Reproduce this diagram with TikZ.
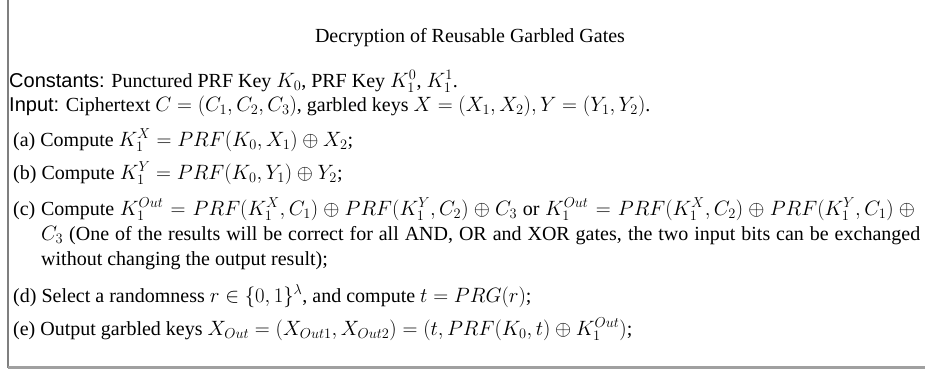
\documentclass[tikz,border=0pt]{standalone}
\usepackage[no-math]{fontspec}
\setmainfont{Liberation Serif}
\setsansfont{Liberation Sans}
\definecolor{leftrule}{HTML}{7F7F7F}
\definecolor{baserule}{HTML}{A0A0A0}
\begin{document}
\begin{tikzpicture}[x=1pt,y=-1pt,
  txt/.style={anchor=base west, inner sep=0pt, font=\fontsize{20}{25}\selectfont},
  titletxt/.style={anchor=base, inner sep=0pt, font=\fontsize{20}{25}\selectfont}]
\useasboundingbox (0,0) rectangle (925,369);
% frame: a rule on the left and a heavier one along the bottom
\coordinate (topleft) at (8,0);
\coordinate (botleft) at (8,367.5);
\coordinate (botright) at (925,367.5);
\draw[leftrule, line width=1.3pt] (topleft) -- (botleft);
\draw[baserule, line width=3pt] (botleft) -- (botright);

\node[titletxt] (title) at (470,42) {Decryption of Reusable Garbled Gates};
\node[txt] (consts) at (9,87) {\textsf{Constants:} Punctured PRF Key $K_0$, PRF Key $K_1^0$, $K_1^1$.};
\node[txt] (inputs) at (9,111) {\textsf{Input:} Ciphertext $C=(C_1,C_2,C_3)$, garbled keys $X=(X_1,X_2),Y=(Y_1,Y_2)$.};
\node[txt] (stepa) at (13,146) {(a) Compute $K_1^X=PRF(K_0,X_1)\oplus X_2$;};
\node[txt] (stepb) at (13,179) {(b) Compute $K_1^Y=PRF(K_0,Y_1)\oplus Y_2$;};
\node[txt] (stepc) at (13,215) {\parbox[t]{907pt}{\fontsize{20}{25}\selectfont\hangindent=28pt\hangafter=1
  (c) Compute $K_1^{Out}=PRF(K_1^X,C_1)\oplus PRF(K_1^Y,C_2)\oplus C_3$ or $K_1^{Out}=PRF(K_1^X,C_2)\oplus PRF(K_1^Y,C_1)\oplus{}$\linebreak
  $C_3$ (One of the results will be correct for all AND, OR and XOR gates, the two input bits can be exchanged\linebreak
  without changing the output result);}};
\node[txt] (stepd) at (13,302) {(d) Select a randomness $r\in\{0,1\}^{\lambda}$, and compute $t=PRG(r)$;};
\node[txt] (stepe) at (13,335) {(e) Output garbled keys $X_{Out}=(X_{Out1},X_{Out2})=(t,PRF(K_0,t)\oplus K_1^{Out})$;};
\end{tikzpicture}
\end{document}
